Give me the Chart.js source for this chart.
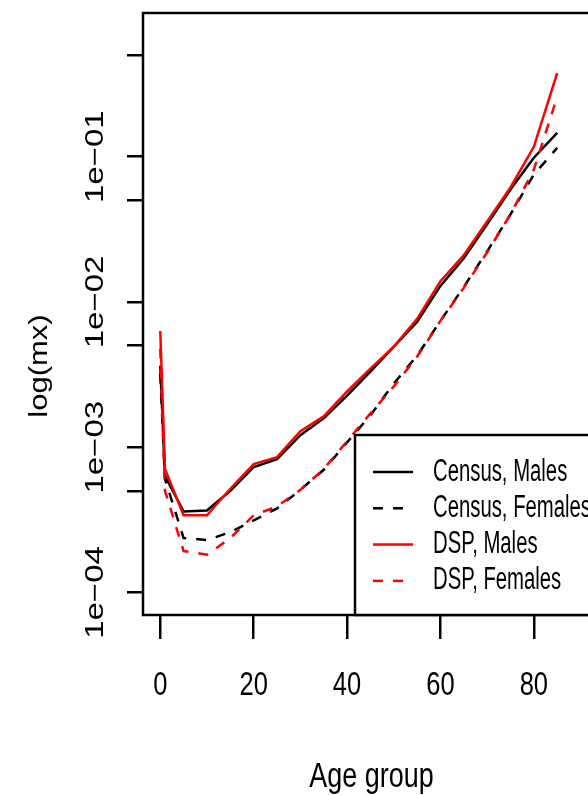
<!DOCTYPE html>
<html>
<head>
<meta charset="utf-8">
<script src="https://cdn.jsdelivr.net/npm/chart.js@4"></script>
<style>
  html, body { margin: 0; padding: 0; background: #fff; overflow: hidden; }
  #wrap { width: 640px; height: 795px; }
</style>
</head>
<body>
<div id="wrap"><canvas id="mx" width="640" height="795"></canvas></div>
<script>
// age groups (x) and death rates by source / sex
const ages = [0, 1, 5, 10, 15, 20, 25, 30, 35, 40, 45, 50, 55, 60, 65, 70, 75, 80, 85];
const censusMales   = [3.64e-3, 6.35e-4, 3.61e-4, 3.67e-4, 5.02e-4, 7.31e-4, 8.28e-4, 1.21e-3, 1.58e-3, 2.27e-3, 3.32e-3, 4.92e-3, 7.29e-3, 1.29e-2, 2.00e-2, 3.42e-2, 5.94e-2, 9.84e-2, 0.146];
const censusFemales = [3.21e-3, 6.05e-4, 2.37e-4, 2.30e-4, 2.60e-4, 3.14e-4, 3.79e-4, 5.09e-4, 7.0e-4, 1.08e-3, 1.66e-3, 2.74e-3, 4.27e-3, 7.41e-3, 1.27e-2, 2.23e-2, 4.01e-2, 7.53e-2, 0.115];
const dspMales      = [6.32e-3, 7.08e-4, 3.40e-4, 3.40e-4, 5.18e-4, 7.65e-4, 8.55e-4, 1.29e-3, 1.63e-3, 2.42e-3, 3.48e-3, 4.92e-3, 7.65e-3, 1.39e-2, 2.10e-2, 3.59e-2, 6.14e-2, 0.117, 0.376];
const dspFemales    = [4.76e-3, 5.02e-4, 1.93e-4, 1.82e-4, 2.37e-4, 3.40e-4, 3.91e-4, 5.09e-4, 7.08e-4, 1.10e-3, 1.71e-3, 2.62e-3, 4.20e-3, 7.41e-3, 1.25e-2, 2.20e-2, 4.01e-2, 8.15e-2, 0.258];

const xTicks = [0, 20, 40, 60, 80];
const yTicks = [1e-4, 5e-4, 1e-3, 5e-3, 1e-2, 5e-2, 1e-1, 5e-1];
const yLabels = { 1e-4: "1e\u221204", 1e-3: "1e\u221203", 1e-2: "1e\u221202", 1e-1: "1e\u221201" };

const seriesNames = ["Census, Males", "Census, Females", "DSP, Males", "DSP, Females"];

const FONT = '"Liberation Sans", Arial, sans-serif';

// R-like text: squeezed horizontally, optionally rotated (bottom to top)
function txt(ctx, s, x, y, size, kx, rot, align, base) {
  ctx.save();
  ctx.translate(x, y);
  ctx.scale(kx, 1);
  if (rot) ctx.rotate(-Math.PI / 2);
  ctx.font = size + "px " + FONT;
  ctx.fillStyle = "#000";
  ctx.textAlign = align || "center";
  ctx.textBaseline = base || "middle";
  ctx.fillText(s, 0, 0);
  ctx.restore();
}

const rFrame = {
  id: "rFrame",
  afterDraw(chart) {
    const ctx = chart.ctx;
    const a = chart.chartArea;
    const xs = chart.scales.x, ys = chart.scales.y;

    // plot box
    ctx.save();
    ctx.strokeStyle = "#000";
    ctx.lineWidth = 2.5;
    ctx.strokeRect(a.left, a.top, a.right - a.left, a.bottom - a.top);
    ctx.restore();

    // tick labels
    xTicks.forEach(v => txt(ctx, String(v), xs.getPixelForValue(v), 686, 34, 0.75));
    yTicks.forEach(v => {
      if (yLabels[v]) txt(ctx, yLabels[v], 96, ys.getPixelForValue(v), 33, 0.77, true);
    });

    // axis titles
    txt(ctx, "Age group", (a.left + a.right) / 2 - 1, 787, 35, 0.77, false, "center", "alphabetic");
    txt(ctx, "log(mx)", 40, 366, 31, 0.85, true);

    // legend, bottom-right inside the box
    const lx = 355, ly = a.bottom - 180;
    ctx.save();
    ctx.fillStyle = "#fff";
    ctx.fillRect(lx, ly, a.right - lx, a.bottom - ly);
    ctx.strokeStyle = "#000";
    ctx.lineWidth = 2.5;
    ctx.strokeRect(lx, ly, a.right - lx, a.bottom - ly);
    chart.data.datasets.forEach((ds, i) => {
      const yy = ly + 37 + i * 36.3;
      ctx.strokeStyle = ds.borderColor;
      ctx.lineWidth = ds.borderWidth;
      ctx.setLineDash(ds.borderDash || []);
      ctx.beginPath();
      ctx.moveTo(lx + 18, yy);
      ctx.lineTo(lx + 58, yy);
      ctx.stroke();
      ctx.setLineDash([]);
      txt(ctx, ds.label, lx + 78, yy, 31, 0.655, false, "left", "middle");
    });
    ctx.restore();
  }
};

const mk = (name, vals, color, dashed, order) => ({
  label: name,
  data: ages.map((a, i) => ({ x: a, y: vals[i] })),
  borderColor: color,
  borderWidth: 2.5,
  borderDash: dashed ? [10, 10] : [],
  pointRadius: 0,
  tension: 0,
  fill: false,
  order
});

new Chart(document.getElementById("mx"), {
  type: "line",
  data: {
    datasets: [
      mk(seriesNames[0], censusMales, "#000000", false, 1),
      mk(seriesNames[1], censusFemales, "#000000", true, 1),
      mk(seriesNames[2], dspMales, "#ff0000", false, 0),
      mk(seriesNames[3], dspFemales, "#ff0000", true, 0)
    ]
  },
  options: {
    responsive: false,
    animation: false,
    devicePixelRatio: 1,
    layout: { padding: { left: 0, top: 13, right: 38, bottom: 0 } },
    plugins: { legend: { display: false }, tooltip: { enabled: false } },
    scales: {
      x: {
        type: "linear",
        min: -3.7,
        max: 94.6,
        afterBuildTicks: s => { s.ticks = xTicks.map(v => ({ value: v })); },
        afterFit: s => { s.height = 180; },
        ticks: { display: false },
        border: { display: false },
        grid: { drawOnChartArea: false, drawTicks: true, tickLength: 24, color: "#000", lineWidth: 2.5 }
      },
      y: {
        type: "logarithmic",
        min: 7.35e-5,
        max: 0.976,
        afterBuildTicks: s => { s.ticks = yTicks.map(v => ({ value: v })); },
        afterFit: s => { s.width = 143; },
        ticks: { display: false },
        border: { display: false },
        grid: { drawOnChartArea: false, drawTicks: true, tickLength: 16, color: "#000", lineWidth: 2.5 }
      }
    }
  },
  plugins: [rFrame]
});
</script>
</body>
</html>
